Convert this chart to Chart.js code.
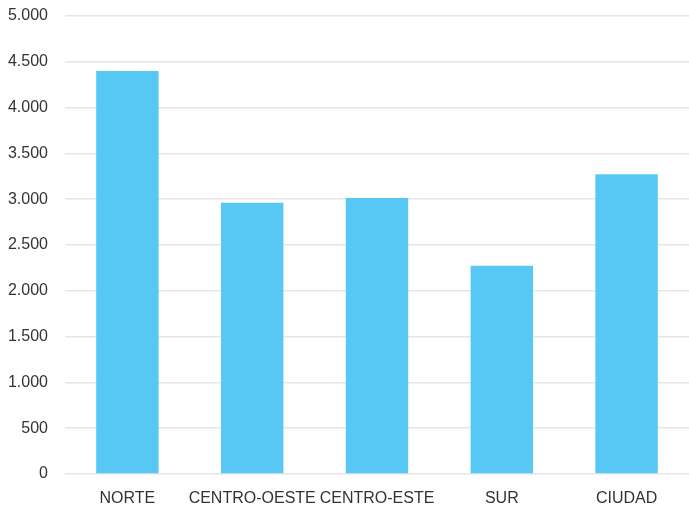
<!DOCTYPE html>
<html>
<head>
<meta charset="utf-8">
<script src="https://cdn.jsdelivr.net/npm/chart.js@4/dist/chart.umd.min.js"></script>
<style>
  html, body { margin: 0; padding: 0; background: #fff; }
  #wrap { width: 689px; height: 508px; }
</style>
</head>
<body>
<div id="wrap"><canvas id="chart"></canvas></div>
<script>
const regiones = ['NORTE', 'CENTRO-OESTE', 'CENTRO-ESTE', 'SUR', 'CIUDAD'];
const valores = [4400, 2962, 3013, 2274, 3272];
const yMax = 5000;
const yStep = 500;

const fmt = v => String(v).replace(/\B(?=(\d{3})+(?!\d))/g, '.');

Chart.defaults.font.family = '"Liberation Sans", Arial, sans-serif';
Chart.defaults.color = '#333';

new Chart(document.getElementById('chart'), {
  type: 'bar',
  data: {
    labels: regiones,
    datasets: [{
      data: valores,
      backgroundColor: '#56C8F3',
      borderWidth: 0,
      categoryPercentage: 0.5,
      barPercentage: 1
    }]
  },
  options: {
    responsive: true,
    maintainAspectRatio: false,
    animation: false,
    layout: { padding: { top: 16, right: 0, bottom: 0, left: 0 } },
    plugins: { legend: { display: false }, tooltip: { enabled: false } },
    scales: {
      x: {
        afterFit: s => { s.height = 34; },
        grid: { display: false, drawTicks: false },
        border: { display: false },
        ticks: { font: { size: 16 }, padding: 15, maxRotation: 0, autoSkip: false }
      },
      y: {
        min: 0,
        max: yMax,
        afterFit: s => { s.width = 65; s.paddingTop = 0; },
        grid: { color: '#e6e6e6', lineWidth: 1.5, drawTicks: false },
        border: { display: false },
        ticks: {
          stepSize: yStep,
          padding: 17,
          font: { size: 16 },
          callback: v => fmt(v)
        }
      }
    }
  }
});
</script>
</body>
</html>
